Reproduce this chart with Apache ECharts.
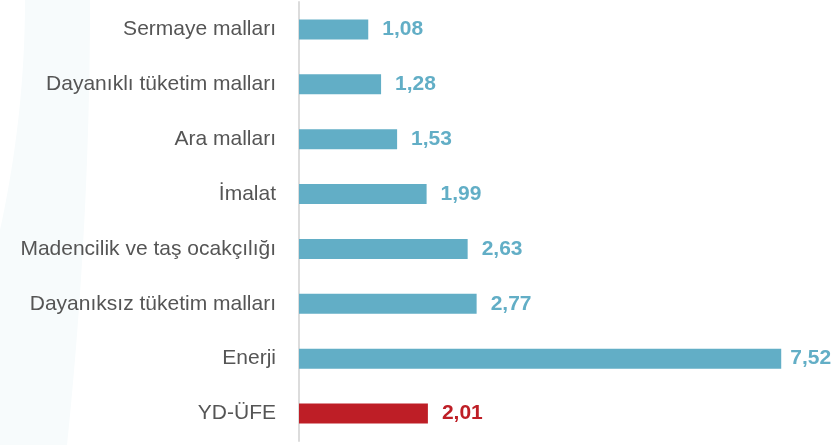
<!DOCTYPE html>
<html>
<head>
<meta charset="utf-8">
<script src="https://cdn.jsdelivr.net/npm/echarts@6/dist/echarts.min.js"></script>
<style>
html,body{margin:0;padding:0;background:#fff;}
#chart{width:833px;height:445px;}
</style>
</head>
<body>
<div id="chart"></div>
<script>
var categories = ['Sermaye malları','Dayanıklı tüketim malları','Ara malları','İmalat','Madencilik ve taş ocakçılığı','Dayanıksız tüketim malları','Enerji','YD-ÜFE'];
var values = [1.08, 1.28, 1.53, 1.99, 2.63, 2.77, 7.52, 2.01];
var highlight = ['YD-ÜFE'];

var blue = '#62aec6';
var red = '#be1e26';

// decorative background band (left side)
var bandPts = [];
for (var y = 0; y <= 445; y += 5) bandPts.push([90 - 23 * Math.pow(y / 445, 2), y]);
for (var y2 = 445; y2 >= 0; y2 -= 5) bandPts.push([25 - 25 * Math.pow(y2 / 230, 2), y2]);

var maxVal = Math.max.apply(null, values);

var chart = echarts.init(document.getElementById('chart'));
chart.setOption({
  backgroundColor: '#fff',
  animation: false,
  graphic: [{
    type: 'polygon',
    silent: true,
    z: -10,
    shape: { points: bandPts },
    style: { fill: '#f7fbfc' }
  }],
  grid: { left: 299, right: 21, top: 2, bottom: 4, containLabel: false },
  xAxis: {
    type: 'value', min: 0, max: 8,
    show: false
  },
  yAxis: {
    type: 'category',
    inverse: true,
    data: categories,
    axisLine: { show: true, lineStyle: { color: '#dcdcdc', width: 2 } },
    axisTick: { show: false },
    axisLabel: { color: '#555555', fontSize: 21, fontFamily: 'Liberation Sans, Arial, sans-serif', margin: 23 }
  },
  series: [{
    type: 'bar',
    barWidth: 20,
    data: values.map(function (v, i) {
      var c = highlight.indexOf(categories[i]) >= 0 ? red : blue;
      return { value: v, itemStyle: { color: c }, label: { color: c, distance: v === maxVal ? 9 : 14 } };
    }),
    label: {
      show: true, position: 'right', distance: 14,
      fontSize: 21, fontWeight: 'bold', fontFamily: 'Liberation Sans, Arial, sans-serif',
      formatter: function (p) { return p.value.toFixed(2).replace('.', ','); }
    }
  }]
});
</script>
</body>
</html>
